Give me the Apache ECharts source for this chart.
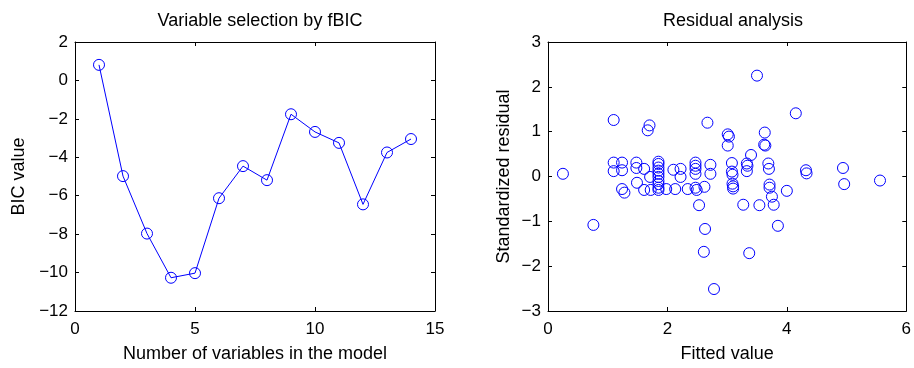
<!DOCTYPE html>
<html>
<head>
<meta charset="utf-8">
<script src="https://cdn.jsdelivr.net/npm/echarts@6/dist/echarts.min.js"></script>
<style>
  html, body { margin: 0; padding: 0; background: #fff; }
  #chart { width: 914px; height: 368px; }
</style>
</head>
<body>
<div id="chart"></div>
<script>
var dom = document.getElementById("chart");
var myChart = echarts.init(dom);

// left panel: BIC per model size
var numVars = [1, 2, 3, 4, 5, 6, 7, 8, 9, 10, 11, 12, 13, 14];
var bicValues = [0.81, -4.98, -7.97, -10.27, -10.03, -6.13, -4.46, -5.19, -1.76, -2.68, -3.25, -6.45, -3.75, -3.05];

// right panel: residuals vs fitted
var fitted = [0.25, 0.76, 1.10, 1.10, 1.10, 1.24, 1.24, 1.24, 1.28, 1.48, 1.48, 1.49, 1.61, 1.61, 1.67, 1.70, 1.71, 1.72,
	1.85, 1.85, 1.85, 1.85, 1.85, 1.85, 1.85, 1.85, 1.85, 1.85,
	1.98, 2.10, 2.13, 2.22, 2.22, 2.34, 2.47, 2.47, 2.47, 2.47, 2.47, 2.49, 2.53, 2.62, 2.63, 2.61, 2.67, 2.72, 2.72, 2.78,
	3.01, 3.03, 3.01, 3.08, 3.08, 3.09, 3.09, 3.10, 3.10, 3.27, 3.33, 3.34, 3.33, 3.37, 3.40, 3.50, 3.54,
	3.63, 3.62, 3.64, 3.69, 3.70, 3.71, 3.71, 3.75, 3.78, 3.85, 4.00, 4.15, 4.32, 4.33, 4.94, 4.96, 5.56];
var residuals = [0.06, -1.08, 1.26, 0.31, 0.12, 0.31, 0.14, -0.28, -0.36, 0.31, 0.19, -0.14, 0.17, -0.30, 1.03, 1.14, -0.01, -0.30,
	0.33, 0.28, 0.20, 0.13, 0.06, -0.01, -0.10, -0.17, -0.25, -0.30,
	-0.28, 0.15, -0.28, 0.17, -0.01, -0.28, 0.31, 0.24, 0.17, 0.06, -0.25, -0.30, -0.64, -0.23, -1.17, -1.68, 1.20, 0.26, 0.06, -2.51,
	0.94, 0.89, 0.69, 0.30, 0.11, 0.04, -0.16, -0.22, -0.27, -0.63, 0.29, 0.24, 0.12, -1.71, 0.48, 2.25, -0.64,
	0.98, 0.71, 0.69, 0.29, 0.17, -0.18, -0.25, -0.45, -0.63, -1.10, -0.32, 1.41, 0.14, 0.07, 0.19, -0.17, -0.09];

var leftXTicks = { min: 0, max: 15, interval: 5 };
var leftYTicks = { min: -12, max: 2, interval: 2 };
var rightXTicks = { min: 0, max: 6, interval: 2 };
var rightYTicks = { min: -3, max: 3, interval: 1 };

var font = 'Liberation Sans, Arial, Helvetica, sans-serif';
var blue = '#0000ff';

function minus(v) {
	return String(v).replace('-', '\u2212');
}

function makeAxis(ticks, grid, pos, showLabel, name, gap) {
	var isX = pos == 'bottom' || pos == 'top';
	return {
		type: 'value',
		gridIndex: grid,
		position: pos,
		min: ticks.min,
		max: ticks.max,
		interval: ticks.interval,
		name: name || '',
		nameLocation: 'middle',
		nameGap: gap || 0,
		nameTextStyle: { color: '#000', fontSize: 18, fontFamily: font },
		axisLine: { show: true, onZero: false, lineStyle: { color: '#000', width: 1 } },
		axisTick: { show: true, inside: true, length: 4, lineStyle: { color: '#000' } },
		axisLabel: {
			show: showLabel,
			color: '#000',
			fontSize: 17,
			fontFamily: font,
			margin: isX ? 10 : 7,
			padding: isX ? 0 : [4, 0, 0, 0],
			formatter: minus
		},
		splitLine: { show: false }
	};
}

var option = {
	animation: false,
	backgroundColor: '#fff',
	title: [
		{ text: 'Variable selection by fBIC', left: 255, top: 7, textAlign: 'center',
			textStyle: { fontSize: 18, fontWeight: 'normal', color: '#000', fontFamily: font } },
		{ text: 'Residual analysis', left: 728, top: 7, textAlign: 'center',
			textStyle: { fontSize: 18, fontWeight: 'normal', color: '#000', fontFamily: font } }
	],
	grid: [
		{ left: 75, top: 42, width: 360, height: 274 },
		{ left: 548, top: 42, width: 360, height: 274 }
	],
	xAxis: [
		makeAxis(leftXTicks, 0, 'bottom', true, 'Number of variables in the model', 34),
		makeAxis(leftXTicks, 0, 'top', false),
		makeAxis(rightXTicks, 1, 'bottom', true, 'Fitted value', 34),
		makeAxis(rightXTicks, 1, 'top', false)
	],
	yAxis: [
		makeAxis(leftYTicks, 0, 'left', true, 'BIC value', 47),
		makeAxis(leftYTicks, 0, 'right', false),
		makeAxis(rightYTicks, 1, 'left', true, 'Standardized residual', 35),
		makeAxis(rightYTicks, 1, 'right', false)
	],
	series: [
		{
			type: 'line',
			xAxisIndex: 0,
			yAxisIndex: 0,
			data: numVars.map(function (x, i) { return [x, bicValues[i]]; }),
			symbol: 'circle',
			symbolSize: 11,
			lineStyle: { color: blue, width: 1 },
			itemStyle: { color: 'rgba(0,0,0,0)', borderColor: blue, borderWidth: 1 }
		},
		{
			type: 'scatter',
			xAxisIndex: 2,
			yAxisIndex: 2,
			data: fitted.map(function (x, i) { return [x, residuals[i]]; }),
			symbol: 'circle',
			symbolSize: 11,
			itemStyle: { color: 'rgba(0,0,0,0)', borderColor: blue, borderWidth: 1, opacity: 1 }
		}
	]
};

myChart.setOption(option, true);
</script>
</body>
</html>
